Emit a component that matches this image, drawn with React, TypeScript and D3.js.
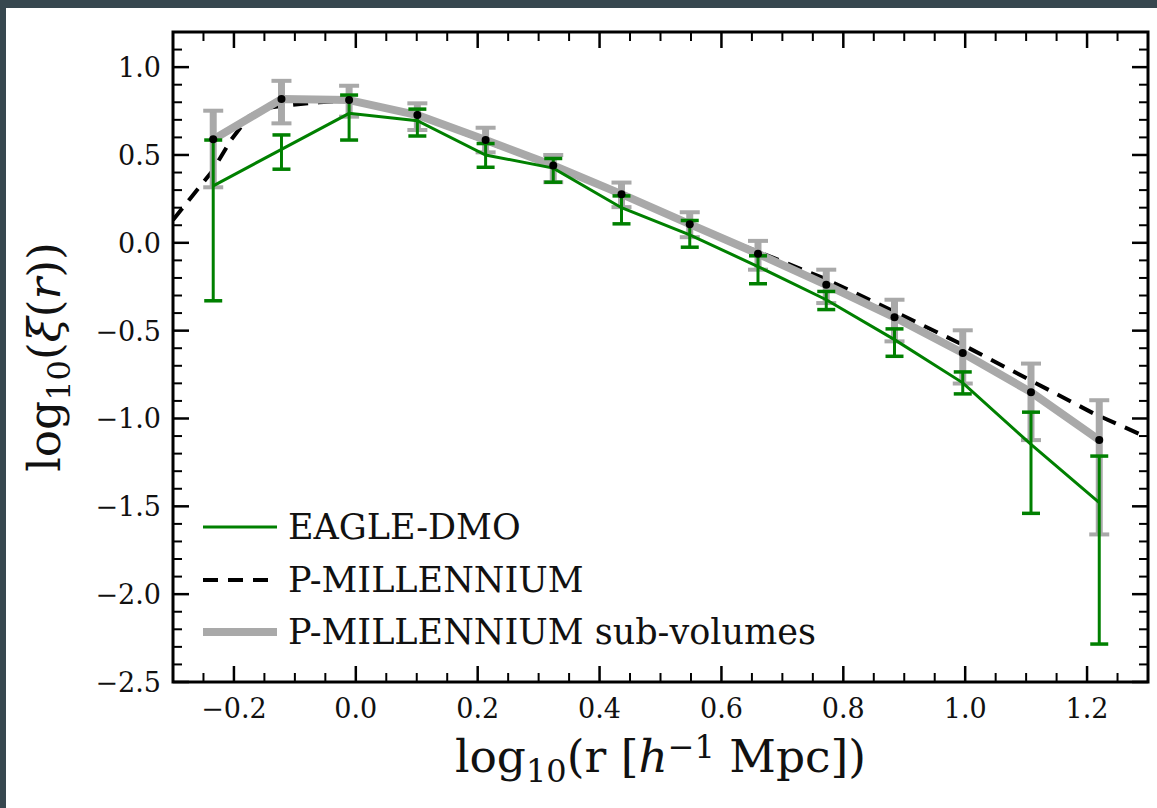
import React from "react";
import * as d3 from "d3";

// ---- data ----
const binX = [-0.234, -0.122, -0.011, 0.101, 0.213, 0.324, 0.436, 0.548, 0.66, 0.772, 0.884, 0.996, 1.108, 1.22];

const eagleY = [0.324, 0.532, 0.737, 0.695, 0.5, 0.425, 0.2, 0.045, -0.135, -0.324, -0.551, -0.797, -1.148, -1.479];
const eagleLo = [-0.33, 0.419, 0.585, 0.608, 0.43, 0.345, 0.108, -0.025, -0.233, -0.38, -0.646, -0.86, -1.54, -2.284];
const eagleHi = [0.585, 0.614, 0.841, 0.761, 0.565, 0.48, 0.267, 0.127, -0.074, -0.277, -0.49, -0.735, -0.964, -1.214];

const subY = [0.589, 0.818, 0.8125, 0.727, 0.585, 0.44, 0.277, 0.106, -0.0625, -0.239, -0.424, -0.627, -0.85, -1.123];
const subLo = [0.316, 0.68, 0.718, 0.642, 0.515, 0.345, 0.203, 0.032, -0.153, -0.343, -0.561, -0.801, -1.123, -1.66];
const subHi = [0.752, 0.922, 0.894, 0.794, 0.655, 0.5, 0.343, 0.174, 0.011, -0.153, -0.324, -0.498, -0.6875, -0.896];

const pmX = [-0.3, -0.27, -0.235, -0.205, -0.175, -0.15, -0.12, -0.06, -0.01, 0.1, 0.21, 0.32, 0.43, 0.55, 0.66, 0.77, 0.88, 0.99, 1.1, 1.21, 1.3];
const pmY = [0.13, 0.26, 0.41, 0.585, 0.72, 0.765, 0.78, 0.8, 0.81, 0.725, 0.58, 0.44, 0.28, 0.1, -0.05, -0.205, -0.385, -0.57, -0.77, -0.97, -1.11];

const xTicks = [-0.2, 0, 0.2, 0.4, 0.6, 0.8, 1.0, 1.2];
const yTicks = [1.0, 0.5, 0.0, -0.5, -1.0, -1.5, -2.0, -2.5];

const legendLabels = ["EAGLE-DMO", "P-MILLENNIUM", "P-MILLENNIUM sub-volumes"];

// ---- layout ----
const W = 1157;
const H = 808;
const L = 173, R = 1148, T = 32, B = 682;
const FONT = "'DejaVu Serif', serif";
const GREEN = "#008000";
const GREY = "#a9a9a9";

const fmt = (v: number) => (v < 0 ? "\u2212" : "") + Math.abs(v).toFixed(1);

export default function App() {
  const x = d3.scaleLinear().domain([-0.3, 1.3]).range([L, R]);
  const y = d3.scaleLinear().domain([-2.5, 1.2]).range([B, T]);

  const xMinor = d3.range(-0.3, 1.3001, 0.05).filter((v) => !xTicks.some((t) => Math.abs(t - v) < 1e-6));
  const yMinor = d3.range(-2.5, 1.2001, 0.1).filter((v) => !yTicks.some((t) => Math.abs(t - v) < 1e-6));

  const line = d3
    .line<[number, number]>()
    .x((d) => x(d[0]))
    .y((d) => y(d[1]));

  const eaglePts = binX.map((v, i) => [v, eagleY[i]] as [number, number]);
  const subPts = binX.map((v, i) => [v, subY[i]] as [number, number]);
  const pmPts = pmX.map((v, i) => [v, pmY[i]] as [number, number]);

  const major = 16, minor = 9;

  const errBars = (lo: number[], hi: number[], color: string, w: number, capW: number, capH: number, key: string) =>
    binX.map((v, i) => (
      <g key={key + i}>
        <line x1={x(v)} x2={x(v)} y1={y(lo[i])} y2={y(hi[i])} stroke={color} strokeWidth={w} />
        <line x1={x(v) - capW / 2} x2={x(v) + capW / 2} y1={y(lo[i])} y2={y(lo[i])} stroke={color} strokeWidth={capH} />
        <line x1={x(v) - capW / 2} x2={x(v) + capW / 2} y1={y(hi[i])} y2={y(hi[i])} stroke={color} strokeWidth={capH} />
      </g>
    ));

  const legY = [527, 580, 632];

  return (
    <div style={{ position: "absolute", left: 0, top: 0, width: W, height: H }}>
      <svg width={W} height={H} style={{ display: "block" }}>
        <rect x={0} y={0} width={W} height={H} fill="#37474f" />
        <rect x={6} y={8} width={W - 6} height={H - 8} fill="#ffffff" />
        <defs>
          <clipPath id="plotclip">
            <rect x={L} y={T} width={R - L} height={B - T} />
          </clipPath>
        </defs>

        <g clipPath="url(#plotclip)">
          {/* P-MILLENNIUM dashed */}
          <path d={line(pmPts) || ""} fill="none" stroke="#000" strokeWidth={4} strokeDasharray="15,10" />
          {/* sub-volumes grey */}
          {errBars(subLo, subHi, GREY, 7, 20, 4, "s")}
          <path d={line(subPts) || ""} fill="none" stroke={GREY} strokeWidth={8} strokeLinejoin="round" />
          {/* EAGLE green */}
          <path d={line(eaglePts) || ""} fill="none" stroke={GREEN} strokeWidth={3} />
          {errBars(eagleLo, eagleHi, GREEN, 3, 18, 3.5, "e")}
          {/* black dots */}
          {binX.map((v, i) => (
            <circle key={"d" + i} cx={x(v)} cy={y(subY[i])} r={4} fill="#000" />
          ))}
        </g>

        {/* ticks */}
        <g stroke="#000">
          {xTicks.map((t) => (
            <g key={"xt" + t}>
              <line x1={x(t)} x2={x(t)} y1={B} y2={B - major} strokeWidth={2.5} />
              <line x1={x(t)} x2={x(t)} y1={T} y2={T + major} strokeWidth={2.5} />
            </g>
          ))}
          {xMinor.map((t, i) => (
            <g key={"xm" + i}>
              <line x1={x(t)} x2={x(t)} y1={B} y2={B - minor} strokeWidth={2} />
              <line x1={x(t)} x2={x(t)} y1={T} y2={T + minor} strokeWidth={2} />
            </g>
          ))}
          {yTicks.map((t) => (
            <g key={"yt" + t}>
              <line x1={L} x2={L + major} y1={y(t)} y2={y(t)} strokeWidth={2.5} />
              <line x1={R} x2={R - major} y1={y(t)} y2={y(t)} strokeWidth={2.5} />
            </g>
          ))}
          {yMinor.map((t, i) => (
            <g key={"ym" + i}>
              <line x1={L} x2={L + minor} y1={y(t)} y2={y(t)} strokeWidth={2} />
              <line x1={R} x2={R - minor} y1={y(t)} y2={y(t)} strokeWidth={2} />
            </g>
          ))}
        </g>

        {/* frame */}
        <rect x={L} y={T} width={R - L} height={B - T} fill="none" stroke="#000" strokeWidth={3} />

        {/* tick labels */}
        <g fontFamily={FONT} fontSize={27} fill="#111">
          {xTicks.map((t) => (
            <text key={"xl" + t} x={x(t)} y={B + 36} textAnchor="middle">
              {fmt(t)}
            </text>
          ))}
          {yTicks.map((t) => (
            <text key={"yl" + t} x={L - 12} y={y(t) + 10} textAnchor="end">
              {fmt(t)}
            </text>
          ))}
        </g>

        {/* axis labels */}
        <text x={(L + R) / 2} y={772} textAnchor="middle" fontFamily={FONT} fontSize={45.5} fill="#111">
          log
          <tspan fontSize={32} dy={10}>10</tspan>
          <tspan dy={-10}>(r [</tspan>
          <tspan fontStyle="italic">h</tspan>
          <tspan fontSize={32} dy={-14}>{"\u22121"}</tspan>
          <tspan dy={14}> Mpc])</tspan>
        </text>
        <text
          transform={`translate(60, ${(T + B) / 2}) rotate(-90)`}
          textAnchor="middle"
          fontFamily={FONT}
          fontSize={45.5}
          fill="#111"
        >
          log
          <tspan fontSize={32} dy={10}>10</tspan>
          <tspan dy={-10}>(</tspan>
          <tspan fontStyle="italic">ξ</tspan>
          <tspan>(</tspan>
          <tspan fontStyle="italic">r</tspan>
          <tspan>))</tspan>
        </text>

        {/* legend */}
        <g fontFamily={FONT} fontSize={35} fill="#111">
          <line x1={203} x2={277} y1={legY[0]} y2={legY[0]} stroke={GREEN} strokeWidth={3} />
          <line x1={203} x2={277} y1={legY[1]} y2={legY[1]} stroke="#000" strokeWidth={4} strokeDasharray="15,10" />
          <line x1={203} x2={277} y1={legY[2]} y2={legY[2]} stroke={GREY} strokeWidth={8} />
          {legendLabels.map((s, i) => (
            <text key={s} x={288} y={legY[i] + 12}>
              {s}
            </text>
          ))}
        </g>
      </svg>
    </div>
  );
}
